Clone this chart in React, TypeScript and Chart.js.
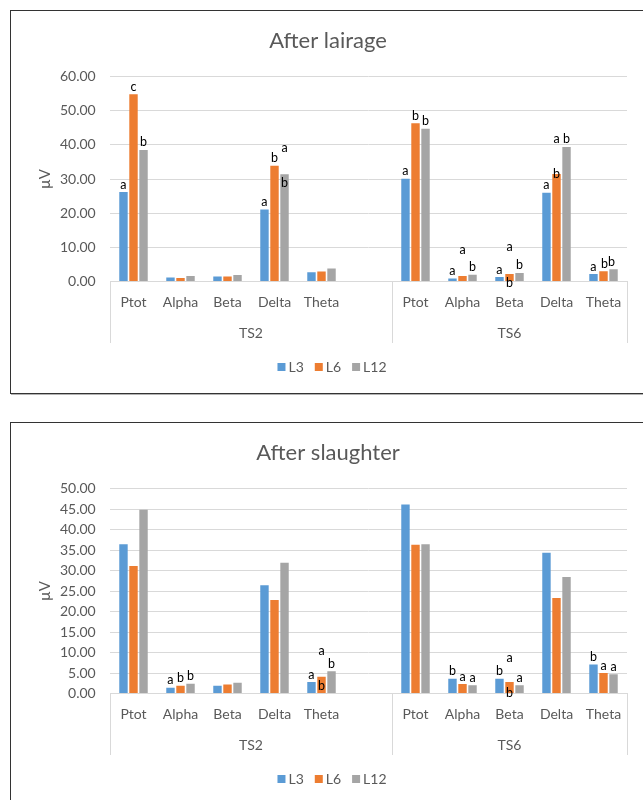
import { useEffect, useRef } from "react";
import { Chart, registerables } from "chart.js";

Chart.register(...registerables);

// Category axis: two recording sessions, each with five EEG measures (one spacer slot after TS2)
const CATEGORIES = ["Ptot", "Alpha", "Beta", "Delta", "Theta", "", "Ptot", "Alpha", "Beta", "Delta", "Theta"];
const GROUPS = ["TS2", "TS6"];
const GROUP_SIZES = [6, 5];
const SERIES = ["L3", "L6", "L12"];
const COLORS = ["#5B9BD5", "#ED7D31", "#A5A5A5"];

// After lairage (µV)
const LAIRAGE_L3 = [26.2, 1.2, 1.5, 21.1, 2.7, null, 30.1, 0.9, 1.3, 26.0, 2.2];
const LAIRAGE_L6 = [54.8, 1.0, 1.5, 33.9, 2.9, null, 46.3, 1.6, 2.2, 31.5, 3.0];
const LAIRAGE_L12 = [38.5, 1.6, 1.9, 31.4, 3.8, null, 44.7, 2.0, 2.5, 39.4, 3.6];
const LAIRAGE_Y_MAX = 60;
const LAIRAGE_Y_STEP = 10;

// Significance letters, after lairage (several letters on one bar are space separated)
const LAIRAGE_SIG_L3 = ["a", "", "", "a", "", "", "a", "a", "a", "a", "a"];
const LAIRAGE_SIG_L6 = ["c", "", "", "b", "", "", "b", "a", "a b", "b", "b"];
const LAIRAGE_SIG_L12 = ["b", "", "", "a b", "", "", "b", "b", "b", "a b", "b"];

// After slaughter (µV)
const SLAUGHTER_L3 = [36.4, 1.4, 1.9, 26.4, 2.8, null, 46.1, 3.6, 3.6, 34.3, 7.1];
const SLAUGHTER_L6 = [31.1, 1.9, 2.2, 22.8, 4.1, null, 36.3, 2.3, 2.8, 23.3, 5.0];
const SLAUGHTER_L12 = [44.8, 2.4, 2.6, 31.9, 5.4, null, 36.4, 2.0, 2.0, 28.4, 4.7];
const SLAUGHTER_Y_MAX = 50;
const SLAUGHTER_Y_STEP = 5;

const SLAUGHTER_SIG_L3 = ["", "a", "", "", "a", "", "", "b", "b", "", "b"];
const SLAUGHTER_SIG_L6 = ["", "b", "", "", "a b", "", "", "a", "a b", "", "a"];
const SLAUGHTER_SIG_L12 = ["", "b", "", "", "b", "", "", "a", "a", "", "a"];

// Letter placement overrides, keyed "series:index" (offsets in px from the bar top)
type Place = { dx?: number; dy: number };
const LAIRAGE_SIG_PLACE: Record<string, Place[]> = {
  "2:3": [{ dy: -26 }, { dy: 9 }],
  "1:7": [{ dy: -26 }],
  "1:8": [{ dy: -27 }, { dy: 9 }],
  "1:9": [{ dy: 0 }],
  "2:9": [{ dx: -10, dy: -7.5 }, { dy: -7.5 }],
  "1:10": [{ dx: 1, dy: -7.5 }],
  "2:10": [{ dx: -2, dy: -7.5 }],
};
const SLAUGHTER_SIG_PLACE: Record<string, Place[]> = {
  "1:4": [{ dy: -26 }, { dy: 9 }],
  "1:8": [{ dy: -24 }, { dy: 11 }],
};

const FONT = "Lato, 'Open Sans', sans-serif";
const TEXT = "#595959";
const GRID = "#D9D9D9";
const AXIS_BAND = 61.5; // depth of the two-level category axis below the plot
const DEFAULT_DY = -7.5;

type PanelProps = {
  title: string;
  top: number;
  yMax: number;
  yStep: number;
  values: (number | null)[][];
  sig: string[][];
  sigPlace: Record<string, Place[]>;
};

function BarPanel({ title, top, yMax, yStep, values, sig, sigPlace }: PanelProps) {
  const ref = useRef<HTMLCanvasElement>(null);

  useEffect(() => {
    const canvas = ref.current;
    if (!canvas) return;

    const heading = {
      id: "heading",
      afterDraw(chart: any) {
        const { ctx } = chart;
        ctx.save();
        ctx.fillStyle = TEXT;
        ctx.font = `22px ${FONT}`;
        ctx.textAlign = "center";
        ctx.textBaseline = "middle";
        ctx.fillText(title, 318, 41);
        ctx.restore();
      },
    };

    const groupAxis = {
      id: "groupAxis",
      afterDraw(chart: any) {
        const { ctx, chartArea } = chart;
        const x = chart.scales.x;
        const half = (x.getPixelForValue(1) - x.getPixelForValue(0)) / 2;
        ctx.save();
        ctx.strokeStyle = GRID;
        ctx.lineWidth = 1;
        let start = 0;
        const edges: number[] = [chartArea.left];
        GROUP_SIZES.forEach((n) => {
          start += n;
          edges.push(start >= CATEGORIES.length ? chartArea.right : x.getPixelForValue(start) - half);
        });
        edges.forEach((ex) => {
          const px = Math.round(ex) + 0.5;
          ctx.beginPath();
          ctx.moveTo(px, chartArea.bottom);
          ctx.lineTo(px, chartArea.bottom + AXIS_BAND);
          ctx.stroke();
        });
        ctx.fillStyle = TEXT;
        ctx.font = `14px ${FONT}`;
        ctx.textAlign = "center";
        ctx.textBaseline = "middle";
        GROUPS.forEach((g, i) => {
          ctx.fillText(g, (edges[i] + edges[i + 1]) / 2, chartArea.bottom + 51.5);
        });
        ctx.restore();
      },
    };

    const legend = {
      id: "seriesLegend",
      afterDraw(chart: any) {
        const { ctx, chartArea } = chart;
        ctx.save();
        ctx.font = `14px ${FONT}`;
        ctx.textBaseline = "middle";
        ctx.textAlign = "left";
        const box = 8;
        const gapText = 3;
        const gapItem = 11;
        const widths = SERIES.map((s) => box + gapText + ctx.measureText(s).width);
        const total = widths.reduce((a, b) => a + b, 0) + gapItem * (SERIES.length - 1);
        let cx = chart.width / 2 + 2 - total / 2;
        const cy = chartArea.bottom + 85.5;
        SERIES.forEach((s, i) => {
          ctx.fillStyle = COLORS[i];
          ctx.fillRect(cx, cy - box / 2, box, box);
          ctx.fillStyle = TEXT;
          ctx.fillText(s, cx + box + gapText, cy + 0.5);
          cx += widths[i] + gapItem;
        });
        ctx.restore();
      },
    };

    const letters = {
      id: "sigLetters",
      afterDatasetsDraw(chart: any) {
        const { ctx } = chart;
        ctx.save();
        ctx.fillStyle = "#000000";
        ctx.font = `12.5px ${FONT}`;
        ctx.textAlign = "center";
        ctx.textBaseline = "middle";
        sig.forEach((row, d) => {
          const meta = chart.getDatasetMeta(d);
          row.forEach((txt, j) => {
            if (!txt) return;
            const bar = meta.data[j];
            if (!bar) return;
            const parts = txt.split(" ");
            const place = sigPlace[`${d}:${j}`];
            parts.forEach((p, k) => {
              const pl = place && place[k] ? place[k] : { dy: DEFAULT_DY };
              ctx.fillText(p, bar.x + (pl.dx || 0), bar.y + pl.dy);
            });
          });
        });
        ctx.restore();
      },
    };

    const chart = new Chart(canvas, {
      type: "bar",
      data: {
        labels: CATEGORIES,
        datasets: SERIES.map((s, i) => ({
          label: s,
          data: values[i],
          backgroundColor: COLORS[i],
          borderWidth: 0,
          categoryPercentage: 0.64,
          barPercentage: 0.84,
        })),
      },
      options: {
        responsive: false,
        animation: false,
        layout: { padding: { left: 0, right: 23, top: 76.5, bottom: 57 } },
        plugins: {
          legend: { display: false },
          tooltip: { enabled: false },
          title: { display: false },
        },
        scales: {
          x: {
            offset: true,
            grid: { display: false, drawTicks: false },
            border: { display: true, color: GRID, width: 1 },
            ticks: {
              autoSkip: false,
              maxRotation: 0,
              padding: 12.6,
              color: TEXT,
              font: { family: FONT, size: 14 },
            },
            afterFit(scale: any) {
              scale.height = AXIS_BAND;
            },
          },
          y: {
            min: 0,
            max: yMax,
            grid: { color: GRID, drawTicks: false },
            border: { display: false },
            ticks: {
              stepSize: yStep,
              padding: 14.3,
              color: TEXT,
              font: { family: FONT, size: 14 },
              callback: (v: any) => Number(v).toFixed(2),
            },
            title: {
              display: true,
              text: "µV",
              color: TEXT,
              font: { family: FONT, size: 15 },
              padding: { top: 26.6, bottom: 0 },
            },
            afterFit(scale: any) {
              scale.width = 100;
            },
          },
        },
      } as any,
      plugins: [heading, groupAxis, legend, letters],
    });

    return () => chart.destroy();
  }, [title, yMax, yStep, values, sig, sigPlace]);

  return (
    <canvas
      ref={ref}
      width={640}
      height={400}
      style={{ position: "absolute", left: 10, top, width: 640, height: 400 }}
    />
  );
}

const frame = {
  position: "absolute" as const,
  left: 10,
  width: 700,
  boxSizing: "border-box" as const,
  border: "1px solid #333333",
  boxShadow: "1px 1px 0 rgba(0,0,0,0.3)",
  background: "#ffffff",
};

export default function App() {
  return (
    <div style={{ position: "fixed", inset: 0, overflow: "hidden", background: "#ffffff" }}>
      <div style={{ ...frame, top: 10, height: 384 }} />
      <div style={{ ...frame, top: 422, height: 500 }} />
      <BarPanel
        title="After lairage"
        top={0}
        yMax={LAIRAGE_Y_MAX}
        yStep={LAIRAGE_Y_STEP}
        values={[LAIRAGE_L3, LAIRAGE_L6, LAIRAGE_L12]}
        sig={[LAIRAGE_SIG_L3, LAIRAGE_SIG_L6, LAIRAGE_SIG_L12]}
        sigPlace={LAIRAGE_SIG_PLACE}
      />
      <BarPanel
        title="After slaughter"
        top={412}
        yMax={SLAUGHTER_Y_MAX}
        yStep={SLAUGHTER_Y_STEP}
        values={[SLAUGHTER_L3, SLAUGHTER_L6, SLAUGHTER_L12]}
        sig={[SLAUGHTER_SIG_L3, SLAUGHTER_SIG_L6, SLAUGHTER_SIG_L12]}
        sigPlace={SLAUGHTER_SIG_PLACE}
      />
    </div>
  );
}
